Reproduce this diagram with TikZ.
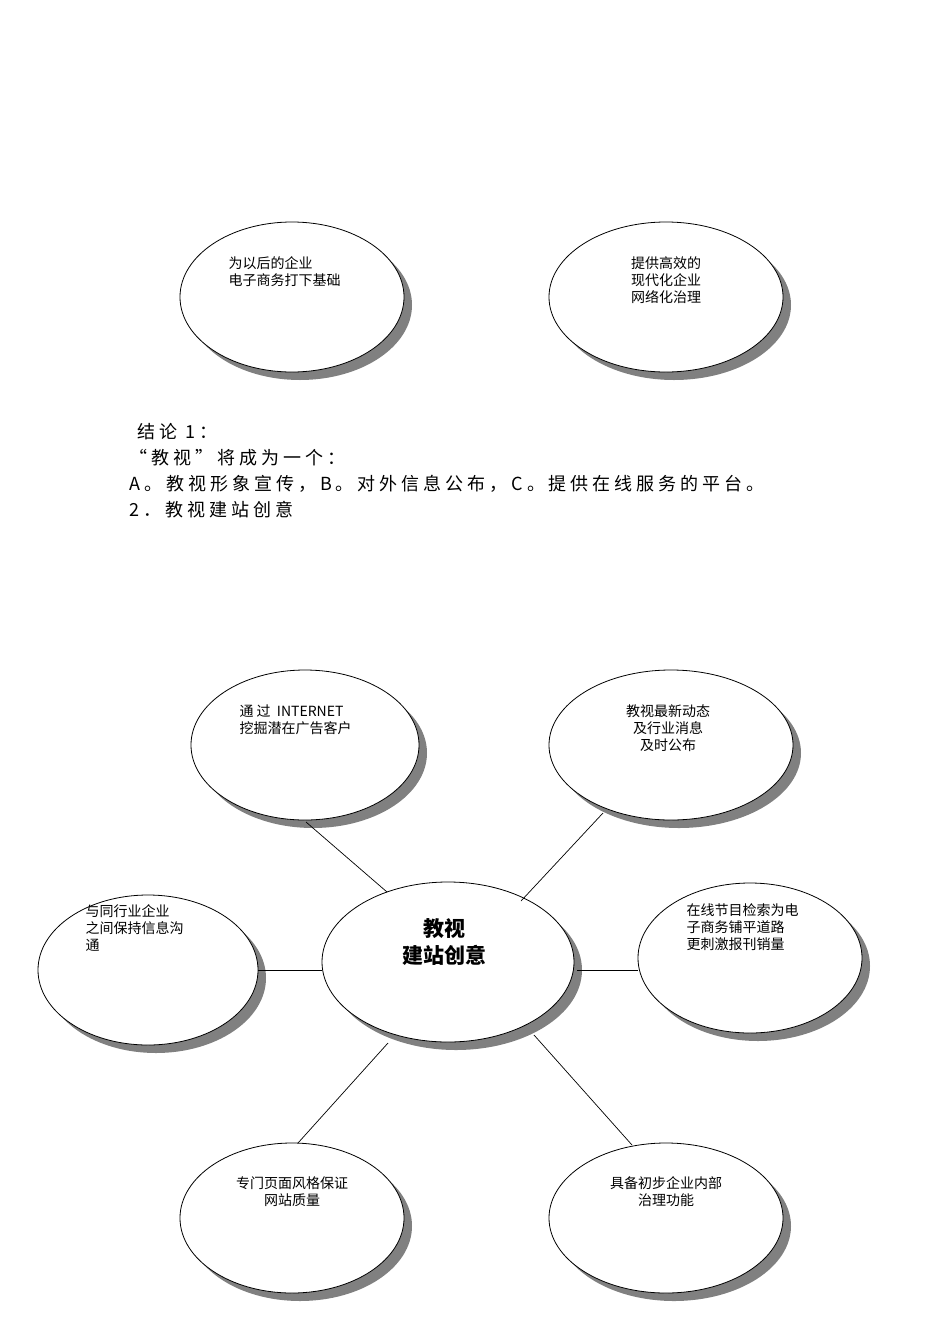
\documentclass[tikz,border=0pt]{standalone}
\usepackage{fontspec}
\usetikzlibrary{shapes.geometric}
\setmainfont{Liberation Serif}
\newfontfamily\cjk{Noto Sans CJK SC}
\newfontfamily\cjkwide[LetterSpace=22]{Noto Sans CJK SC}
\begin{document}
\begin{tikzpicture}[x=1pt,y=-1pt,
  shd/.style={fill=black!50},
  lbl/.style={font=\cjk\fontsize{14}{17}\selectfont,align=left,anchor=north west},
  ln/.style={draw=black,line width=0.7pt}]
\useasboundingbox (0,0) rectangle (950,1344);
\def\bubble#1#2#3#4#5{%
  \fill[shd] (#2+8,#3+8) ellipse [x radius=#4,y radius=#5];
  \node[draw,ellipse,minimum width={2*#4},minimum height={2*#5},fill=white,line width=0.8pt,inner sep=0] (#1) at (#2,#3) {};}
\bubble{a}{292}{297}{112}{75}
\bubble{b}{666}{297}{117}{75}
\node[lbl] (ta) at (225,253) {为以后的企业\\电子商务打下基础};
\node[lbl,align=center,anchor=north] (tb) at (666,253) {提供高效的\\现代化企业\\网络化治理};
\node[anchor=north west,align=left,font=\cjkwide\fontsize{18}{26}\selectfont] (txt) at (126,420)
 {\ 结论 1：\\“教视”将成为一个：\\A。教视形象宣传，B。对外信息公布，C。提供在线服务的平台。\\2．教视建站创意};
\bubble{c}{305}{745}{114}{75}
\bubble{d}{671}{745}{122}{75}
\bubble{e}{148}{970}{110}{75}
\bubble{g}{750}{958}{112}{75}
\bubble{h}{292}{1218}{112}{75}
\bubble{i}{666}{1218}{117}{75}
\bubble{f}{448}{962}{126}{80}
\node[lbl] (tc) at (236,701) {通\ 过\ \ INTERNET\\挖掘潜在广告客户};
\node[lbl,align=center,anchor=north] (td) at (668,701) {教视最新动态\\及行业消息\\及时公布};
\node[lbl] (te) at (82,901) {与同行业企业\\之间保持信息沟\\通};
\node[lbl] (tg) at (683,900) {在线节目检索为电\\子商务铺平道路\\更刺激报刊销量};
\node[lbl,align=center,anchor=north] (th) at (292,1173) {专门页面风格保证\\网站质量};
\node[lbl,align=center,anchor=north] (ti) at (666,1173) {具备初步企业内部\\治理功能};
\node[font=\cjk\bfseries\fontsize{21}{27}\selectfont,align=center] (tf) at (444,942) {教视\\建站创意};
\coordinate (p1) at (306,822); \coordinate (q1) at (387,892);
\coordinate (p2) at (603,813); \coordinate (q2) at (521,901);
\coordinate (p3) at (258,970); \coordinate (q3) at (322,970);
\coordinate (p4) at (577,970); \coordinate (q4) at (638,970);
\coordinate (p5) at (388,1043); \coordinate (q5) at (298,1143);
\coordinate (p6) at (534,1035); \coordinate (q6) at (632,1145);
\foreach \k in {1,...,6} \draw[ln] (p\k) -- (q\k);
\end{tikzpicture}
\end{document}
